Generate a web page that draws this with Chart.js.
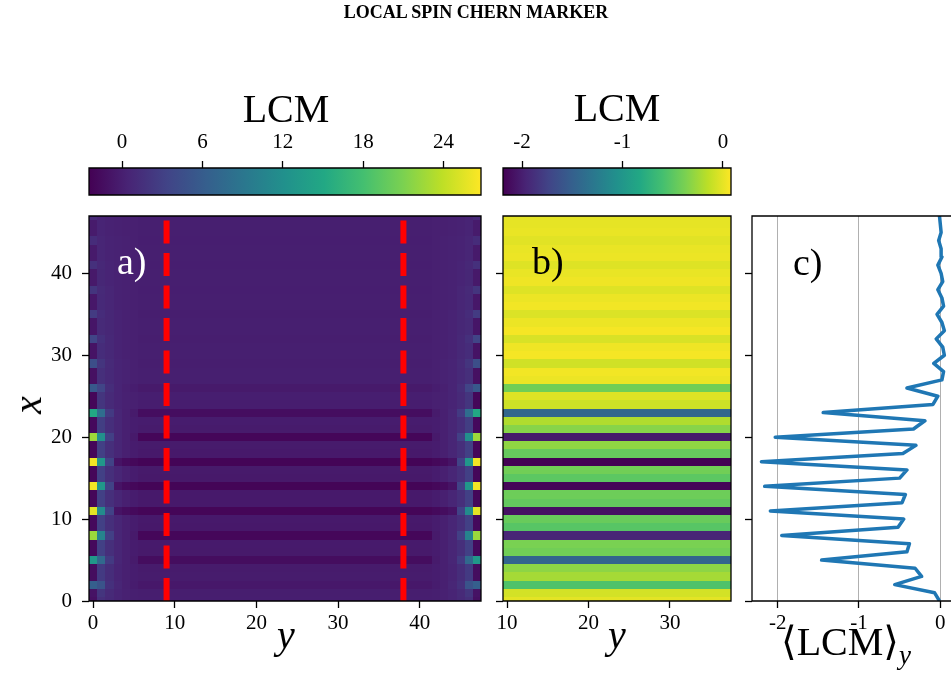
<!DOCTYPE html>
<html>
<head>
<meta charset="utf-8">
<script src="https://cdn.jsdelivr.net/npm/chart.js@4.4.0/dist/chart.umd.min.js"></script>
<style>
    html, body { margin: 0; padding: 0; background: #fff; overflow: hidden; }
    #wrap { position: relative; width: 951px; height: 692px; }
    #wrap canvas { position: absolute; left: 0; top: 0; }
    .lbl { position: absolute; font-family: 'Liberation Serif', 'DejaVu Serif', serif; color: #000; white-space: nowrap; }
</style>
</head>
<body>
<div id="wrap">
    <canvas id="cbA" width="951" height="692"></canvas>
    <canvas id="cbB" width="951" height="692"></canvas>
    <canvas id="panelA" width="951" height="692"></canvas>
    <canvas id="panelB" width="951" height="692"></canvas>
    <canvas id="panelC" width="951" height="692"></canvas>

    <div class="lbl" style="left:476px; top:3px; font-size:18px; line-height:18px; font-weight:bold; transform:translateX(-50%);">LOCAL SPIN CHERN MARKER</div>
    <div class="lbl" style="left:286px; top:89px; font-size:40px; line-height:40px; transform:translateX(-50%);">LCM</div>
    <div class="lbl" style="left:617px; top:88px; font-size:40px; line-height:40px; transform:translateX(-50%);">LCM</div>
    <div class="lbl" style="left:286px; top:615px; font-size:40px; line-height:40px; font-style:italic; transform:translateX(-50%);">y</div>
    <div class="lbl" style="left:617px; top:615px; font-size:40px; line-height:40px; font-style:italic; transform:translateX(-50%);">y</div>
    <div class="lbl" style="left:28px; top:405px; font-size:40px; line-height:40px; font-style:italic; transform:translate(-50%,-50%) rotate(-90deg);">x</div>
    <div class="lbl" style="left:846px; top:622px; font-size:40px; line-height:40px; transform:translateX(-50%);">&#x27E8;LCM&#x27E9;<span style="font-style:italic; font-size:27px; position:relative; top:9px;">y</span></div>
    <div class="lbl" style="left:117px; top:242px; font-size:38px; line-height:38px; color:#fff;">a)</div>
    <div class="lbl" style="left:532px; top:242px; font-size:38px; line-height:38px;">b)</div>
    <div class="lbl" style="left:793px; top:243px; font-size:38px; line-height:38px;">c)</div>
</div>

<script>
// lattice sites: x is the row index, y the column index
const xSites = [0, 1, 2, 3, 4, 5, 6, 7, 8, 9, 10, 11, 12, 13, 14, 15, 16, 17, 18, 19, 20, 21, 22, 23,
                24, 25, 26, 27, 28, 29, 30, 31, 32, 33, 34, 35, 36, 37, 38, 39, 40, 41, 42, 43, 44, 45, 46, 47];
const ySitesA = [0, 1, 2, 3, 4, 5, 6, 7, 8, 9, 10, 11, 12, 13, 14, 15, 16, 17, 18, 19, 20, 21, 22, 23,
                 24, 25, 26, 27, 28, 29, 30, 31, 32, 33, 34, 35, 36, 37, 38, 39, 40, 41, 42, 43, 44, 45, 46, 47];
const ySitesB = [10, 11, 12, 13, 14, 15, 16, 17, 18, 19, 20, 21, 22, 23, 24, 25, 26, 27, 28, 29, 30, 31, 32, 33, 34, 35, 36, 37];

// <LCM>_y per row (also the bulk value of each row)
const lcmAvg = [-0.01, -0.07, -0.56, -0.23, -0.31, -1.46, -0.41, -0.38, -1.95, -0.52, -0.45, -2.09,
                -0.47, -0.43, -2.16, -0.50, -0.41, -2.20, -0.46, -0.30, -2.03, -0.33, -0.19, -1.44,
                -0.09, -0.03, -0.41, 0.02, 0.04, -0.08, 0.05, 0.03, -0.05, 0.05, 0.02, -0.04,
                0.04, 0.02, -0.03, 0.03, 0.01, -0.03, 0.02, 0.01, -0.02, 0.01, 0.00, -0.01];

// LCM at distance 0..5 from the left/right edge, per row
const edgeProfile = [
    [-1.2, 1.5, 0.9, 0.5, 0.2, 0.0], [-1.0, 2.0, 1.0, 0.5, 0.2, 0.0], [6.3, 5.0, 1.6, 0.6, 0.1, -0.2],
    [-1.5, 2.5, 1.3, 0.5, 0.1, -0.1], [-1.5, 2.5, 1.3, 0.5, 0.1, -0.1], [13.0, 7.5, 2.5, 0.6, 0.1, -0.3],
    [-1.8, 3.0, 1.5, 0.6, 0.1, -0.2], [-1.8, 3.0, 1.5, 0.6, 0.1, -0.2], [22.4, 10.5, 3.0, 0.6, 0.1, -0.4],
    [-1.8, 3.0, 1.5, 0.6, 0.1, -0.2], [-1.8, 3.0, 1.5, 0.6, 0.1, -0.2], [25.6, 11.5, 3.2, -1.0, -1.5, -1.8],
    [-2.0, 3.0, 1.5, 0.6, 0.1, -0.2], [-2.0, 3.0, 1.5, 0.6, 0.1, -0.2], [26.3, 13.0, 3.3, -1.0, -1.6, -1.9],
    [-2.0, 3.0, 1.5, 0.6, 0.1, -0.2], [-2.0, 3.0, 1.5, 0.6, 0.1, -0.2], [26.3, 13.0, 3.3, -1.0, -1.6, -1.9],
    [-2.0, 3.0, 1.5, 0.6, 0.1, -0.2], [-2.0, 3.0, 1.5, 0.6, 0.1, -0.2], [22.5, 12.0, 3.0, 0.6, 0.1, -0.4],
    [-1.8, 2.8, 1.4, 0.6, 0.1, -0.1], [-1.8, 2.8, 1.4, 0.6, 0.1, -0.1], [15.0, 8.0, 2.5, 0.6, 0.1, -0.3],
    [-2.0, 2.0, 1.0, 0.5, 0.2, 0.1], [-2.0, 2.0, 1.0, 0.5, 0.2, 0.1], [5.5, 3.5, 1.3, 0.5, 0.1, -0.1],
    [-1.2, 1.5, 0.9, 0.5, 0.3, 0.1], [-1.2, 1.5, 0.9, 0.5, 0.3, 0.1], [4.5, 2.0, 1.0, 0.5, 0.3, 0.1],
    [-1.0, 1.2, 0.8, 0.4, 0.2, 0.1], [-1.0, 1.2, 0.8, 0.4, 0.2, 0.1], [3.5, 1.6, 0.8, 0.4, 0.2, 0.1],
    [-0.8, 1.0, 0.7, 0.4, 0.2, 0.1], [-0.8, 1.0, 0.7, 0.4, 0.2, 0.1], [2.6, 1.2, 0.7, 0.4, 0.2, 0.1],
    [-0.6, 0.9, 0.6, 0.3, 0.2, 0.1], [-0.6, 0.9, 0.6, 0.3, 0.2, 0.1], [2.0, 1.0, 0.6, 0.3, 0.2, 0.1],
    [-0.5, 0.7, 0.5, 0.3, 0.2, 0.1], [-0.5, 0.7, 0.5, 0.3, 0.2, 0.1], [1.6, 0.8, 0.5, 0.3, 0.2, 0.1],
    [-0.4, 0.6, 0.4, 0.3, 0.2, 0.1], [-0.4, 0.6, 0.4, 0.3, 0.2, 0.1], [1.2, 0.6, 0.4, 0.3, 0.2, 0.1],
    [-0.3, 0.5, 0.3, 0.2, 0.1, 0.1], [-0.3, 0.5, 0.3, 0.2, 0.1, 0.1], [1.0, 0.5, 0.3, 0.2, 0.1, 0.1]
];

const cutLines = [9, 38];          // red dashed columns in a)
const rangeA = [-2.47, 26.8];      // colour limits a)
const rangeB = [-2.19, 0.08];      // colour limits b)

const tickRows = [0, 10, 20, 30, 40];
const tickColsA = [0, 10, 20, 30, 40];
const tickColsB = [10, 20, 30];
const tickLcm = [-2, -1, 0];
const cbTicksA = [0, 6, 12, 18, 24];
const cbTicksB = [-2, -1, 0];

// matplotlib viridis, sampled every 0.1
const viridisStops = ['#440154', '#482475', '#414487', '#355f8d', '#2a788e', '#21918c',
                      '#22a884', '#44bf70', '#7ad151', '#bddf26', '#fde725'];
const vRgb = viridisStops.map(h => [1, 3, 5].map(i => parseInt(h.slice(i, i + 2), 16)));
function viridis(t) {
    t = Math.max(0, Math.min(1, t));
    const s = t * 10, i = Math.min(9, Math.floor(s)), f = s - i;
    const a = vRgb[i], b = vRgb[i + 1];
    return `rgb(${a.map((c, k) => Math.round(c + (b[k] - c) * f)).join(',')})`;
}

// cell tables
const cellsA = [];
xSites.forEach((x, r) => {
    ySitesA.forEach(y => {
        const d = Math.min(y, ySitesA[ySitesA.length - 1] - y);
        cellsA.push({ x: y, y: x, v: d < edgeProfile[r].length ? edgeProfile[r][d] : lcmAvg[r] });
    });
});
const cellsB = [];
xSites.forEach((x, r) => ySitesB.forEach(y => cellsB.push({ x: y, y: x, v: lcmAvg[r] })));

const heatmap = {
    id: 'heatmap',
    beforeDatasetsDraw(chart, args, opts) {
        const { ctx, chartArea, scales: { x, y } } = chart;
        const [lo, hi] = opts.range;
        ctx.save();
        ctx.beginPath();
        ctx.rect(chartArea.left, chartArea.top, chartArea.width, chartArea.height);
        ctx.clip();
        chart.data.datasets[0].data.forEach(c => {
            const x0 = Math.round(x.getPixelForValue(c.x - 0.5)), x1 = Math.round(x.getPixelForValue(c.x + 0.5));
            const y0 = Math.round(y.getPixelForValue(c.y + 0.5)), y1 = Math.round(y.getPixelForValue(c.y - 0.5));
            ctx.fillStyle = viridis((c.v - lo) / (hi - lo));
            ctx.fillRect(x0, y0, x1 - x0, y1 - y0);
        });
        ctx.restore();
    }
};

const colorbar = {
    id: 'colorbar',
    beforeDatasetsDraw(chart, args, opts) {
        const { ctx, chartArea: { top, bottom }, scales: { x } } = chart;
        const x0 = x.getPixelForValue(opts.range[0]), x1 = x.getPixelForValue(opts.range[1]);
        const g = ctx.createLinearGradient(x0, 0, x1, 0);
        viridisStops.forEach((c, i) => g.addColorStop(i / 10, c));
        ctx.fillStyle = g;
        ctx.fillRect(x0, top, x1 - x0, bottom - top);
    }
};

const frame = {
    id: 'frame',
    afterDatasetsDraw(chart, args, opts) {
        const { ctx, chartArea: { left, top, right, bottom } } = chart;
        ctx.save();
        ctx.strokeStyle = '#000';
        ctx.lineWidth = 1.3;
        ctx.beginPath();
        ctx.moveTo(right, top); ctx.lineTo(left, top); ctx.lineTo(left, bottom); ctx.lineTo(right, bottom);
        if (!opts.open) ctx.closePath();
        ctx.stroke();
        ctx.restore();
    }
};

const tickFont = { family: "'Liberation Serif', 'DejaVu Serif', serif", size: 21 };

function axis(min, max, ticks, position, size, o = {}) {
    return {
        type: 'linear', position, min, max,
        afterBuildTicks: s => { s.ticks = ticks.map(v => ({ value: v })); },
        afterFit: s => {
            if (s.isHorizontal()) s.height = size; else s.width = size;
            s.paddingLeft = s.paddingRight = s.paddingTop = s.paddingBottom = 0;
        },
        border: { display: false },
        grid: { drawOnChartArea: !!o.grid, color: '#b0b0b0', lineWidth: 1, tickLength: 7, tickColor: '#000', tickWidth: 1.3 },
        ticks: { display: o.labels !== false, color: '#000', font: tickFont, padding: o.pad ?? 4, maxRotation: 0, autoSkip: false }
    };
}

function base(padding, plugins, scales) {
    return {
        responsive: false, animation: false, events: [], devicePixelRatio: 1,
        layout: { padding },
        plugins: Object.assign({ legend: { display: false }, tooltip: { enabled: false } }, plugins),
        scales
    };
}

function cutLine(y) {
    return { data: [{ x: y, y: 0 }, { x: y, y: 47 }], showLine: true, borderColor: '#ff0000',
             borderWidth: 6, borderDash: [23, 9.5], pointRadius: 0 };
}

new Chart(document.getElementById('panelA'), {
    type: 'scatter',
    data: { datasets: [{ data: cellsA, pointRadius: 0 }, cutLine(cutLines[0]), cutLine(cutLines[1])] },
    options: base({ left: 0, top: 216, right: 470, bottom: 41 },
        { heatmap: { range: rangeA }, frame: {} },
        { x: axis(-0.5, 47.5, tickColsA, 'bottom', 50, { pad: 3 }), y: axis(0, 47, tickRows, 'left', 89, { pad: 10 }) }),
    plugins: [heatmap, frame]
});

new Chart(document.getElementById('panelB'), {
    type: 'scatter',
    data: { datasets: [{ data: cellsB, pointRadius: 0 }] },
    options: base({ left: 0, top: 216, right: 220, bottom: 41 },
        { heatmap: { range: rangeB }, frame: {} },
        { x: axis(9.5, 37.5, tickColsB, 'bottom', 50, { pad: 3 }), y: axis(0, 47, tickRows, 'left', 503, { labels: false }) }),
    plugins: [heatmap, frame]
});

new Chart(document.getElementById('panelC'), {
    type: 'scatter',
    data: { datasets: [{ data: lcmAvg.map((v, i) => ({ x: v, y: xSites[i] })), showLine: true,
        borderColor: '#1f77b4', borderWidth: 3.5, borderJoinStyle: 'round', pointRadius: 0 }] },
    options: base({ left: 0, top: 216, right: 0, bottom: 41 },
        { frame: { open: true } },
        { x: axis(-2.316, 0.1316, tickLcm, 'bottom', 50, { pad: 3, grid: true }), y: axis(0, 47, tickRows, 'left', 752, { labels: false }) }),
    plugins: [frame]
});

new Chart(document.getElementById('cbA'), {
    type: 'scatter',
    data: { datasets: [{ data: [] }] },
    options: base({ left: 89, top: 0, right: 470, bottom: 497 },
        { colorbar: { range: rangeA }, frame: {} },
        { x: axis(rangeA[0], rangeA[1], cbTicksA, 'top', 168, { pad: 6 }), y: { display: false, min: 0, max: 1 } }),
    plugins: [colorbar, frame]
});

new Chart(document.getElementById('cbB'), {
    type: 'scatter',
    data: { datasets: [{ data: [] }] },
    options: base({ left: 503, top: 0, right: 220, bottom: 497 },
        { colorbar: { range: rangeB }, frame: {} },
        { x: axis(rangeB[0], rangeB[1], cbTicksB, 'top', 168, { pad: 6 }), y: { display: false, min: 0, max: 1 } }),
    plugins: [colorbar, frame]
});
</script>
</body>
</html>
